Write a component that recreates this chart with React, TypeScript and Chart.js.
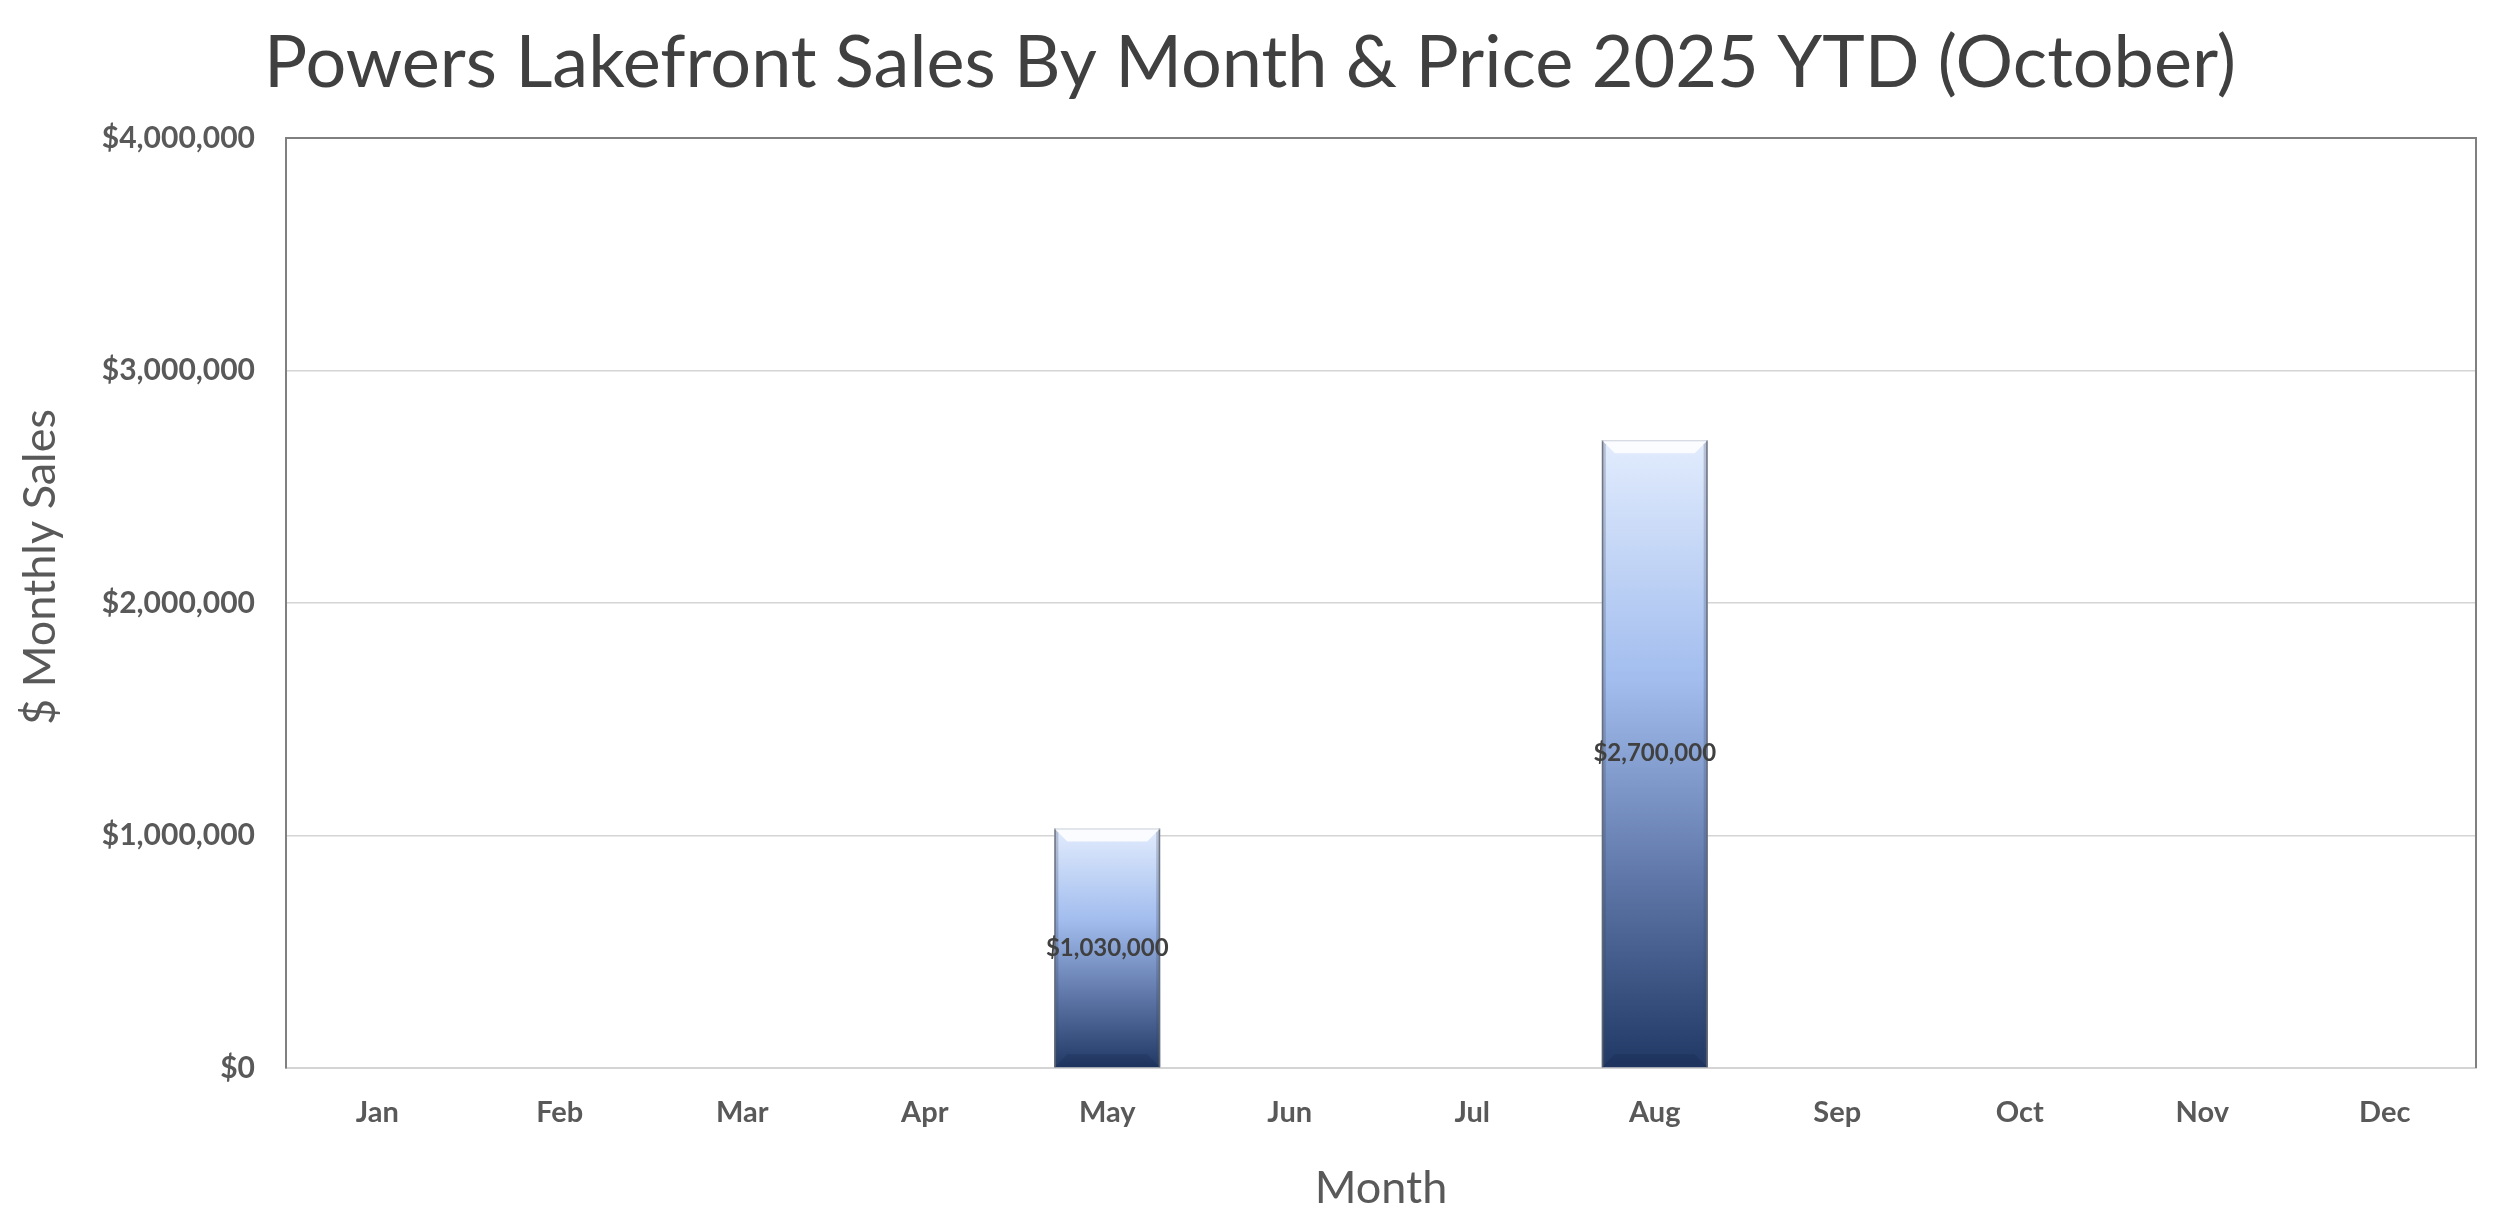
import React, { useEffect, useRef } from "react";
import { Chart, registerables } from "chart.js";
import type { Plugin, ScriptableContext } from "chart.js";

Chart.register(...registerables);

// ---- data ----
const MONTHS = ["Jan", "Feb", "Mar", "Apr", "May", "Jun", "Jul", "Aug", "Sep", "Oct", "Nov", "Dec"];
const MONTHLY_SALES = [0, 0, 0, 0, 1030000, 0, 0, 2700000, 0, 0, 0, 0];
const Y_MAX = 4000000;
const Y_STEP = 1000000;

const TITLE = "Powers Lakefront Sales By Month & Price 2025 YTD (October)";
const Y_TITLE = "$ Monthly Sales";
const X_TITLE = "Month";

const FONT = "Lato, 'Open Sans', sans-serif";
const TICK_COLOR = "#595959";
const GRID = "#d4d4d4";
const FRAME = "#808080";

const money = (v: number) => "$" + Math.round(v).toLocaleString("en-US");

export default function App() {
  const canvasRef = useRef<HTMLCanvasElement | null>(null);

  useEffect(() => {
    document.body.style.margin = "0";
    const ctx = canvasRef.current?.getContext("2d");
    if (!ctx) return;

    // gradient fill per bar, built from the y scale so it runs top -> base
    const barFill = (c: ScriptableContext<"bar">) => {
      const chart = c.chart;
      const y = chart.scales?.y;
      const raw = c.raw as number | undefined;
      if (!y || raw == null || !chart.chartArea) return "#8faadc";
      const top = y.getPixelForValue(raw);
      const base = y.getPixelForValue(0);
      if (!Number.isFinite(top) || base - top < 1) return "#8faadc";
      const g = chart.ctx.createLinearGradient(0, top, 0, base);
      g.addColorStop(0, "#e2ecfd");
      g.addColorStop(0.38, "#a2bdee");
      g.addColorStop(0.7, "#5e77a8");
      g.addColorStop(1, "#203864");
      return g;
    };

    // frame top/right edges of the plot area + rotated y title (sits a bit above centre)
    const plotFrame: Plugin<"bar"> = {
      id: "plotFrame",
      afterDraw(c) {
        const { ctx, chartArea: a } = c;
        ctx.save();
        ctx.strokeStyle = FRAME;
        ctx.lineWidth = 2;
        ctx.beginPath();
        ctx.moveTo(a.left, a.top);
        ctx.lineTo(a.right, a.top);
        ctx.lineTo(a.right, a.bottom);
        ctx.stroke();

        ctx.translate(40, (a.top + a.bottom) / 2 - 36);
        ctx.rotate(-Math.PI / 2);
        ctx.fillStyle = TICK_COLOR;
        ctx.font = `45px ${FONT}`;
        ctx.textAlign = "center";
        ctx.textBaseline = "middle";
        ctx.fillText(Y_TITLE, 0, 0);
        ctx.restore();
      },
    };

    // bevel look + centered value labels
    const bevelLabels: Plugin<"bar"> = {
      id: "bevelLabels",
      afterDatasetsDraw(c) {
        const { ctx } = c;
        const meta = c.getDatasetMeta(0);
        meta.data.forEach((el: any, i: number) => {
          const v = MONTHLY_SALES[i];
          const x0 = el.x - el.width / 2;
          const x1 = el.x + el.width / 2;
          const t = el.y;
          const b = el.base;
          if (!v || b - t < 2) return;
          const d = 13;
          const s = 4;
          ctx.save();
          // top highlight
          ctx.beginPath();
          ctx.moveTo(x0, t);
          ctx.lineTo(x1, t);
          ctx.lineTo(x1 - d, t + d);
          ctx.lineTo(x0 + d, t + d);
          ctx.closePath();
          ctx.fillStyle = "rgba(255,255,255,0.85)";
          ctx.fill();
          // bottom shade
          ctx.beginPath();
          ctx.moveTo(x0, b);
          ctx.lineTo(x1, b);
          ctx.lineTo(x1 - d, b - d);
          ctx.lineTo(x0 + d, b - d);
          ctx.closePath();
          ctx.fillStyle = "rgba(10,20,50,0.12)";
          ctx.fill();
          // sides
          const side = (xa: number, dir: number) => {
            ctx.beginPath();
            ctx.moveTo(xa, t);
            ctx.lineTo(xa + dir * s, t + s);
            ctx.lineTo(xa + dir * s, b - s);
            ctx.lineTo(xa, b);
            ctx.closePath();
            ctx.fillStyle = "rgba(60,70,90,0.25)";
            ctx.fill();
            ctx.beginPath();
            ctx.moveTo(xa + dir * 0.75, t);
            ctx.lineTo(xa + dir * 0.75, b);
            ctx.strokeStyle = "rgba(100,105,115,0.85)";
            ctx.lineWidth = 1.5;
            ctx.stroke();
          };
          side(x0, 1);
          side(x1, -1);
          // top edge line
          ctx.beginPath();
          ctx.moveTo(x0, t + 0.5);
          ctx.lineTo(x1, t + 0.5);
          ctx.strokeStyle = "rgba(200,205,215,0.9)";
          ctx.lineWidth = 1;
          ctx.stroke();
          // value label
          ctx.fillStyle = "#404040";
          ctx.font = `bold 24px ${FONT}`;
          ctx.textAlign = "center";
          ctx.textBaseline = "middle";
          ctx.fillText(money(v), el.x, (t + b) / 2);
          ctx.restore();
        });
      },
    };

    const chart = new Chart(ctx, {
      type: "bar",
      data: {
        labels: MONTHS,
        datasets: [
          {
            label: "Monthly Sales",
            data: MONTHLY_SALES,
            backgroundColor: barFill,
            borderWidth: 0,
            barPercentage: 0.58,
            categoryPercentage: 1,
          },
        ],
      },
      options: {
        animation: false,
        responsive: false,
        devicePixelRatio: 1,
        layout: { padding: { left: 12, right: 12, top: 0, bottom: 0 } },
        plugins: {
          legend: { display: false },
          tooltip: { enabled: false },
          title: {
            display: true,
            text: TITLE,
            color: "#404040",
            font: { family: FONT, size: 72, weight: "normal", lineHeight: 1.2 },
            padding: { top: 21, bottom: 30.6 },
          },
        },
        scales: {
          x: {
            afterFit: (s: any) => {
              s.height = 157;
            },
            grid: { display: false },
            border: { display: true, color: GRID, width: 2 },
            ticks: {
              color: TICK_COLOR,
              padding: 19,
              font: { family: FONT, size: 29, weight: "bold" },
            },
            title: {
              display: true,
              text: X_TITLE,
              color: TICK_COLOR,
              font: { family: FONT, size: 45, weight: "normal", lineHeight: 1.2 },
              padding: { top: 0, bottom: 10 },
            },
          },
          y: {
            min: 0,
            max: Y_MAX,
            afterFit: (s: any) => {
              s.width = 274;
            },
            grid: { color: GRID, lineWidth: 1.5, drawTicks: false },
            border: { display: true, color: FRAME, width: 2 },
            ticks: {
              stepSize: Y_STEP,
              color: TICK_COLOR,
              padding: 31,
              font: { family: FONT, size: 30, weight: "bold" },
              callback: (v: any) => money(Number(v)),
            },
          },
          // empty spacer on the right so the title centres on the page
          yRight: {
            position: "right",
            min: 0,
            max: Y_MAX,
            afterFit: (s: any) => {
              s.width = 12;
            },
            grid: { display: false, drawTicks: false },
            border: { display: false },
            ticks: { display: false },
          },
        },
      },
      plugins: [plotFrame, bevelLabels],
    });

    return () => {
      chart.destroy();
    };
  }, []);

  return (
    <div style={{ width: 2500, height: 1225, background: "#fff" }}>
      <canvas ref={canvasRef} width={2500} height={1225} />
    </div>
  );
}
